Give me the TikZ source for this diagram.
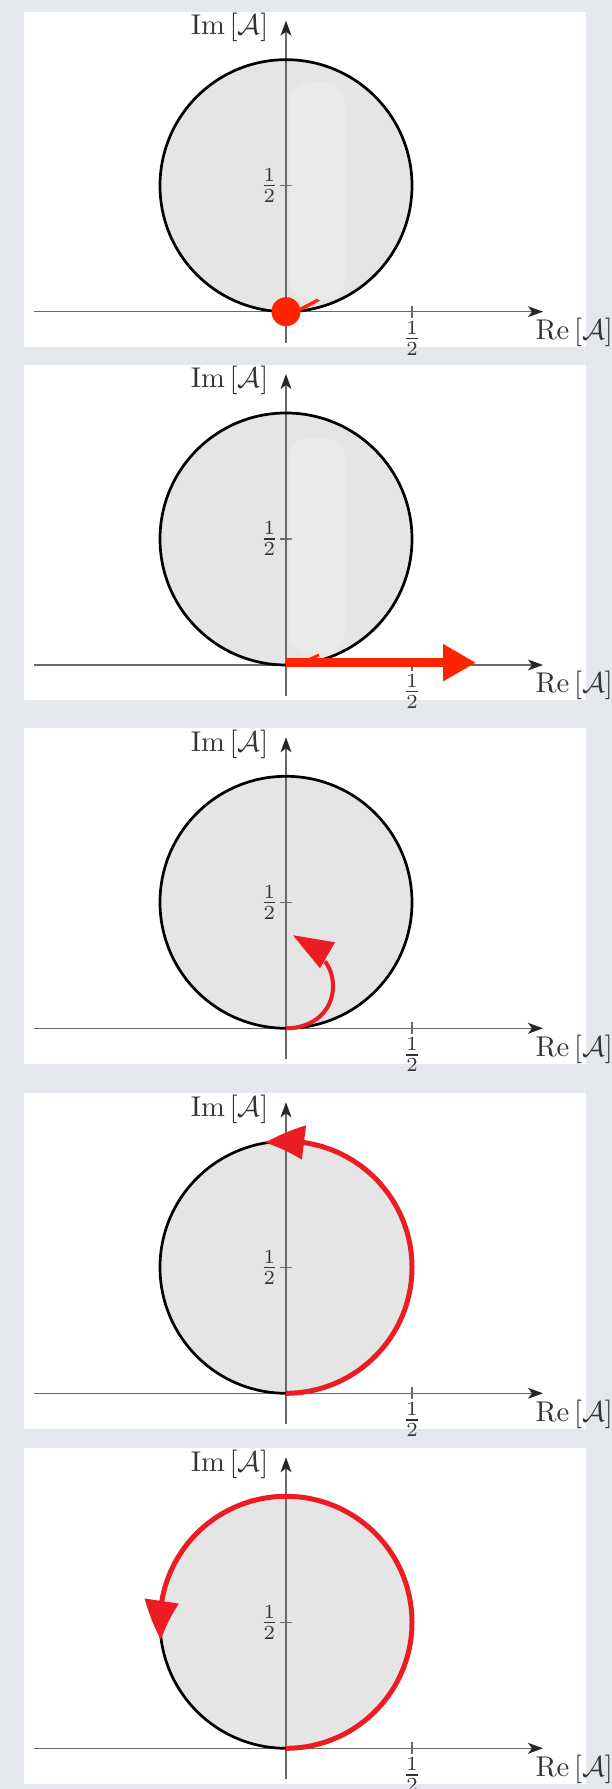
\documentclass[tikz,border=0pt]{standalone}
\usetikzlibrary{arrows.meta,bending}
\definecolor{bgc}{RGB}{228,231,235}
\definecolor{discfill}{RGB}{229,229,229}
\definecolor{axisgray}{RGB}{105,105,105}
\definecolor{redA}{RGB}{255,36,0}
\definecolor{redB}{RGB}{236,28,36}
\tikzset{
  panelbg/.style={fill=white},
  discfill/.style={fill=discfill},
  discline/.style={draw=black, line width=0.95pt},
  axisline/.style={draw=axisgray, line width=0.55pt, -{Stealth[length=5.25pt,width=3.8pt,inset=1.4pt,color=black!85]}},
  tickline/.style={draw=axisgray, line width=0.55pt},
  lbl/.style={inner sep=0pt, text=black!80},
  highlight/.style={fill=white, opacity=0.2, rounded corners=7pt},
  redpath/.style={draw=redB, line width=1.75pt},
  bigtip/.style={-{Triangle[length=13.65pt,width=11.6pt,bend]}}
}
\begin{document}
\begin{tikzpicture}[x=0.35pt,y=0.35pt]
\useasboundingbox (0,0) rectangle (612,1789);
\fill[bgc] (0,0) rectangle (612,1789);
\foreach \i/\oy in {1/1477.3, 2/1124, 3/760.7, 4/395.7, 5/40.7}{
  \begin{scope}[shift={(286,\oy)}]
    \fill[panelbg] (-262,-35.5) rectangle (299.5,300);
    \fill[discfill] (0,126) circle[radius=126];
    \coordinate (o\i) at (0,0);
    \coordinate (xl\i) at (-252,0);
    \coordinate (xr\i) at (257,0);
    \coordinate (yb\i) at (0,-31);
    \coordinate (yt\i) at (0,291);
    \draw[axisline] (xl\i) -- (xr\i);
    \draw[axisline] (yb\i) -- (yt\i);
    \draw[tickline] (-6,126) -- (6,126);
    \draw[tickline] (126,-6) -- (126,6);
    \draw[discline] (0,126) circle[radius=126];
    \node[lbl, anchor=base east] (im\i) at (-17,277) {$\mathrm{Im}\,[\mathcal{A}]$};
    \node[lbl, anchor=base west] (re\i) at (249,-28) {$\mathrm{Re}\,[\mathcal{A}]$};
    \node[lbl] (hy\i) at (-16.7,126) {$\frac{1}{2}$};
    \node[lbl] (hx\i) at (126,-26.7) {$\frac{1}{2}$};
  \end{scope}
}
% panel 1
\begin{scope}[shift={(286,1477.3)}]
  \fill[highlight] (3,12) rectangle (59,229);
  \fill[redA] (14,0) -- (34,11) -- (31,13) -- (14,4) -- cycle;
  \fill[redA] (0,0) circle[radius=14.5];
\end{scope}
% panel 2
\begin{scope}[shift={(286,1124)}]
  \fill[highlight] (3,12) rectangle (59,227);
  \draw[redA, line width=1pt] (22,5) -- (33,10);
  \coordinate (s2) at (0,2.3);
  \coordinate (e2) at (190,2.3);
  \draw[redA, line width=3.15pt, -{Triangle[length=11.55pt,width=12.25pt]}] (s2) -- (e2);
\end{scope}
% panel 3
\begin{scope}[shift={(286,760.7)}]
  \draw[redB, line width=1.4pt] (0,0) .. controls (28,0) and (47,18) .. (47,42) .. controls (47,52) and (44,60) .. (39,67);
  \fill[redB] (7,93) -- (49,86) -- (34,60) -- cycle;
\end{scope}
% panel 4
\begin{scope}[shift={(286,395.7)}]
  \draw[redpath, bigtip] (0,0) arc[start angle=-90, end angle=99.5, radius=126];
\end{scope}
% panel 5
\begin{scope}[shift={(286,40.7)}]
  \draw[redpath, bigtip] (0,0) arc[start angle=-90, end angle=188, radius=126];
\end{scope}
\end{tikzpicture}
\end{document}
